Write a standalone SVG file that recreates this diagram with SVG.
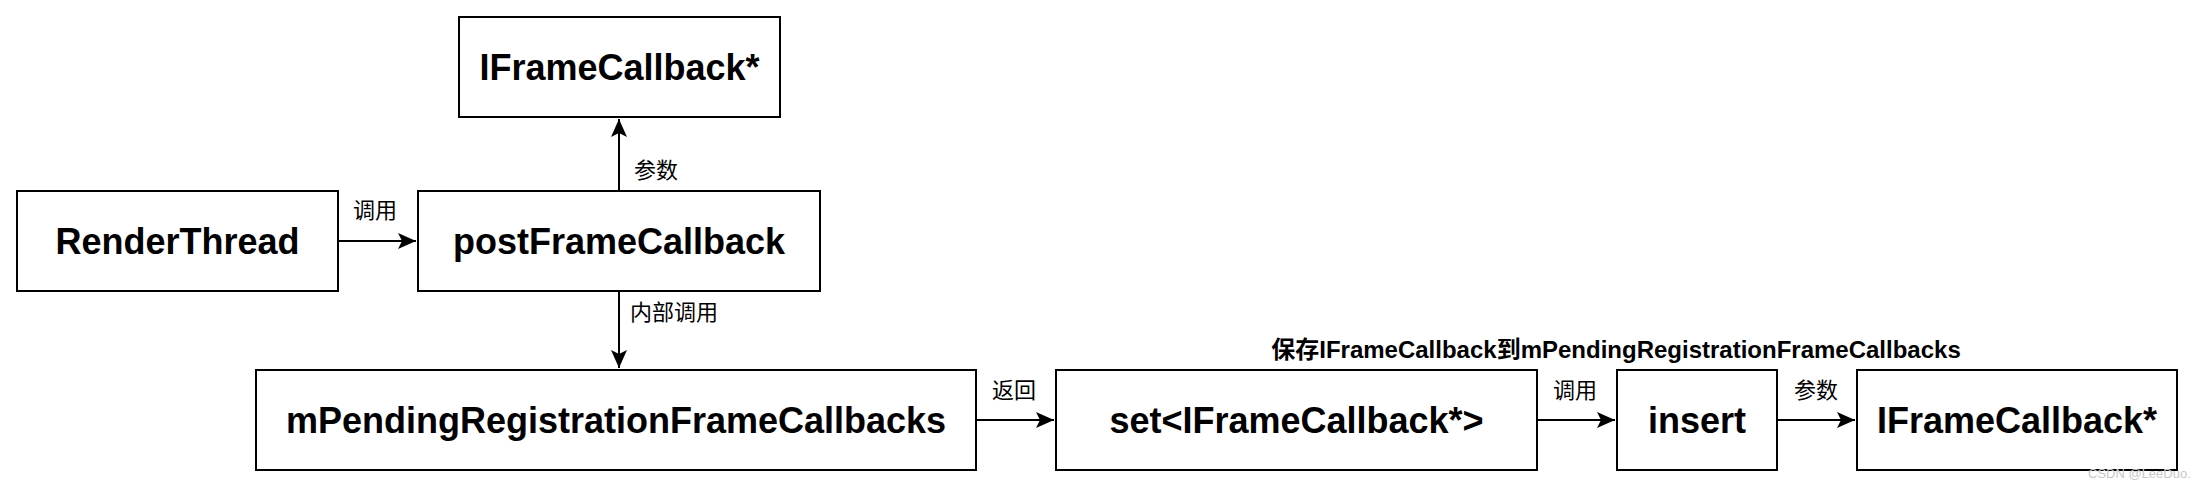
<svg xmlns="http://www.w3.org/2000/svg" width="2194" height="488" viewBox="0 0 2194 488">
<style>
.box{fill:#fff;stroke:#000;stroke-width:2}
.nt{font-family:"Liberation Sans",Arial,sans-serif;font-weight:bold;font-size:36px;fill:#000;text-anchor:middle}
.lbl{font-family:"Liberation Sans","Noto Sans CJK SC",sans-serif;font-size:22px;fill:#000}
.edge{fill:none;stroke:#000;stroke-width:2}
.big{font-family:"Liberation Sans","Noto Sans CJK SC",sans-serif;font-weight:bold;font-size:24px;fill:#000;text-anchor:middle}
.wm{font-family:"Liberation Sans",sans-serif;font-size:13px;fill:#c8c8c8}
</style>
<defs>
<marker id="arr" viewBox="0 0 18 16" refX="18" refY="8" markerWidth="18" markerHeight="16" markerUnits="userSpaceOnUse" orient="auto">
<path d="M0,0 L18,8 L0,16 L4,8 Z" fill="#000"/>
</marker>
</defs>
<g id="connectors">
<path class="edge" d="M338,241 L416,241" marker-end="url(#arr)"/>
<path class="edge" d="M619,191 L619,119" marker-end="url(#arr)"/>
<path class="edge" d="M619,291 L619,368" marker-end="url(#arr)"/>
<path class="edge" d="M976,420 L1054,420" marker-end="url(#arr)"/>
<path class="edge" d="M1537,420 L1615,420" marker-end="url(#arr)"/>
<path class="edge" d="M1777,420 L1855,420" marker-end="url(#arr)"/>
<text class="lbl" x="353" y="218">调用</text>
<text class="lbl" x="634" y="178">参数</text>
<text class="lbl" x="630" y="320">内部调用</text>
<text class="lbl" x="992" y="398">返回</text>
<text class="lbl" x="1553" y="398">调用</text>
<text class="lbl" x="1794" y="398">参数</text>
</g>
<g id="node-iframecallback-top">
<rect class="box" x="459" y="17" width="321" height="100"/>
<text class="nt" x="619.5" y="80">IFrameCallback*</text>
</g>
<g id="node-renderthread">
<rect class="box" x="17" y="191" width="321" height="100"/>
<text class="nt" x="177.5" y="254">RenderThread</text>
</g>
<g id="node-postframecallback">
<rect class="box" x="418" y="191" width="402" height="100"/>
<text class="nt" x="619" y="254">postFrameCallback</text>
</g>
<g id="node-mpending">
<rect class="box" x="256" y="370" width="720" height="100"/>
<text class="nt" x="616" y="433">mPendingRegistrationFrameCallbacks</text>
</g>
<g id="node-set">
<rect class="box" x="1056" y="370" width="481" height="100"/>
<text class="nt" x="1296.5" y="433">set&lt;IFrameCallback*&gt;</text>
</g>
<g id="node-insert">
<rect class="box" x="1617" y="370" width="160" height="100"/>
<text class="nt" x="1697" y="433">insert</text>
</g>
<g id="node-iframecallback-right">
<rect class="box" x="1857" y="370" width="320" height="100"/>
<text class="nt" x="2017" y="433">IFrameCallback*</text>
</g>
<g id="note">
<text class="big" x="1616" y="358">保存IFrameCallback到mPendingRegistrationFrameCallbacks</text>
</g>
<text class="wm" x="2088" y="478">CSDN @LeeDuo.</text>
</svg>
